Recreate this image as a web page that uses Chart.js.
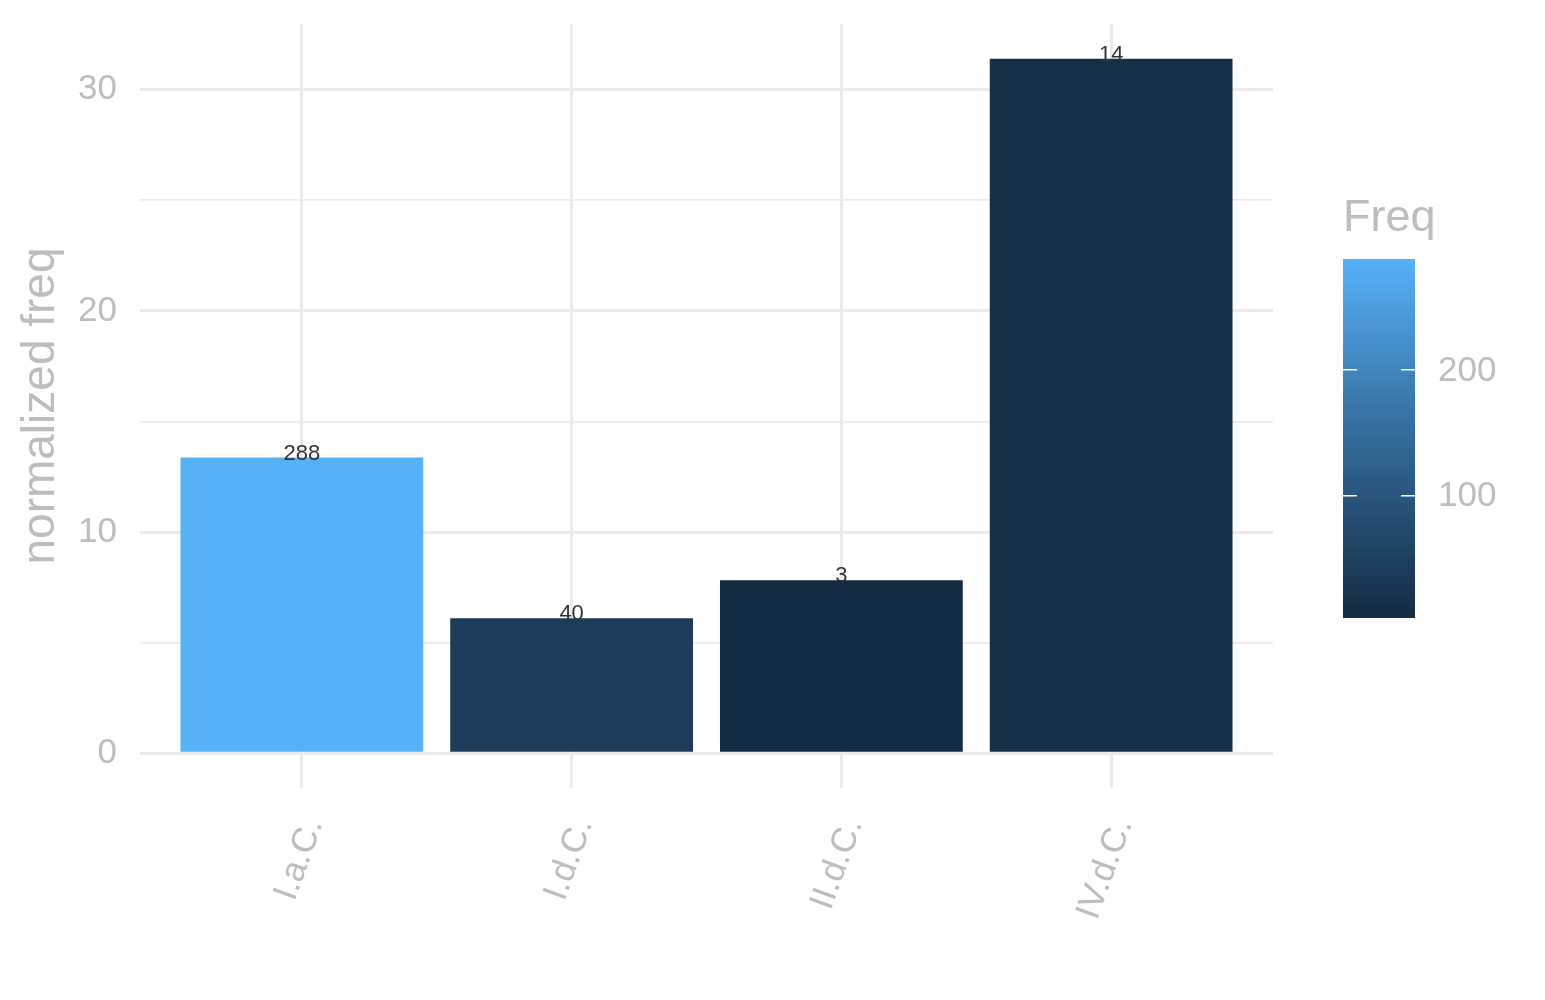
<!DOCTYPE html>
<html>
<head>
<meta charset="utf-8">
<script src="https://cdn.jsdelivr.net/npm/chart.js@4.4.1/dist/chart.umd.min.js"></script>
<style>
  html, body { margin: 0; padding: 0; background: #fff; }
  #wrap { width: 1545px; height: 1000px; position: relative; }
</style>
</head>
<body>
<div id="wrap"><canvas id="chart"></canvas></div>
<script>
// values
const categories = ["I.a.C.", "I.d.C.", "II.d.C.", "IV.d.C."];
const normalizedFreq = [13.37, 6.1, 7.82, 31.4];
const freq = [288, 40, 3, 14];
const yTicks = [0, 5, 10, 15, 20, 25, 30];
const legendTicks = [100, 200];

const LOW = [0x13, 0x2b, 0x43];
const HIGH = [0x56, 0xb1, 0xf7];
const GREY = "#bdbdbd";
const GRID = "#ebebeb";
const FONT = "'Liberation Sans', Arial, sans-serif";

const freqMin = Math.min(...freq);
const freqMax = Math.max(...freq);

const fillFor = (v) => {
  const t = (v - freqMin) / (freqMax - freqMin);
  const c = LOW.map((lo, i) => Math.round(lo + (HIGH[i] - lo) * t));
  return `rgb(${c[0]}, ${c[1]}, ${c[2]})`;
};

// bar value labels (the Freq counts)
const barLabels = {
  id: "barLabels",
  afterDatasetsDraw(chart) {
    const { ctx } = chart;
    const meta = chart.getDatasetMeta(0);
    ctx.save();
    ctx.font = `22px ${FONT}`;
    ctx.fillStyle = "#333333";
    ctx.textAlign = "center";
    ctx.textBaseline = "alphabetic";
    meta.data.forEach((bar, i) => {
      ctx.fillText(String(freq[i]), bar.x, bar.y + 2);
    });
    ctx.restore();
  }
};

// colour bar legend on the right
const colorBar = {
  id: "colorBar",
  afterDraw(chart) {
    const { ctx } = chart;
    const left = 1343, top = 259, w = 72, h = 359;
    const bottom = top + h;
    const toY = (v) => bottom - (v - freqMin) / (freqMax - freqMin) * h;

    ctx.save();
    ctx.font = `45px ${FONT}`;
    ctx.fillStyle = GREY;
    ctx.textAlign = "left";
    ctx.textBaseline = "alphabetic";
    ctx.fillText("Freq", left, 231);

    const grad = ctx.createLinearGradient(0, bottom, 0, top);
    grad.addColorStop(0, fillFor(freqMin));
    grad.addColorStop(0.5, "#336a98");
    grad.addColorStop(1, fillFor(freqMax));
    ctx.fillStyle = grad;
    ctx.fillRect(left, top, w, h);

    ctx.strokeStyle = "#ffffff";
    ctx.lineWidth = 1.5;
    ctx.font = `35px ${FONT}`;
    ctx.fillStyle = GREY;
    ctx.textBaseline = "middle";
    legendTicks.forEach((v) => {
      const y = toY(v);
      ctx.beginPath();
      ctx.moveTo(left, y);
      ctx.lineTo(left + 14, y);
      ctx.moveTo(left + w - 14, y);
      ctx.lineTo(left + w, y);
      ctx.stroke();
      ctx.fillText(String(v), left + w + 23, y + 1);
    });
    ctx.restore();
  }
};

new Chart(document.getElementById("chart"), {
  type: "bar",
  data: {
    datasets: [{
      data: normalizedFreq.map((v, i) => ({ x: i + 1, y: v })),
      backgroundColor: freq.map(fillFor),
      borderWidth: 0,
      categoryPercentage: 1,
      barPercentage: 0.9
    }]
  },
  options: {
    responsive: true,
    maintainAspectRatio: false,
    animation: false,
    layout: { padding: { top: 24, right: 272, left: 0, bottom: 0 } },
    plugins: {
      legend: { display: false },
      tooltip: { enabled: false }
    },
    scales: {
      x: {
        type: "linear",
        min: 0.4,
        max: 4.6,
        offset: false,
        afterBuildTicks: (scale) => {
          scale.ticks = categories.map((_, i) => ({ value: i + 1 }));
        },
        afterFit: (scale) => {
          scale.height = 212;
          scale.paddingLeft = 0;
          scale.paddingRight = 0;
        },
        grid: { color: GRID, lineWidth: 3, drawTicks: false, offset: false },
        border: { display: false },
        ticks: {
          minRotation: 70,
          maxRotation: 70,
          padding: 25,
          labelOffset: 12,
          autoSkip: false,
          color: GREY,
          font: { family: FONT, size: 35 },
          callback: (v) => categories[v - 1] ?? ""
        }
      },
      y: {
        min: -1.57,
        max: 32.97,
        afterBuildTicks: (scale) => {
          scale.ticks = yTicks.map((v) => ({ value: v }));
        },
        afterFit: (scale) => {
          scale.width = 140;
          scale.paddingTop = 0;
          scale.paddingBottom = 0;
        },
        grid: {
          color: GRID,
          lineWidth: (c) => (c.tick && c.tick.value % 10 === 0 ? 3 : 1.8),
          drawTicks: false
        },
        border: { display: false },
        ticks: {
          padding: 23,
          color: GREY,
          font: { family: FONT, size: 35 },
          callback: (v) => (v % 10 === 0 ? String(v) : "")
        },
        title: {
          display: true,
          text: "normalized freq",
          color: GREY,
          font: { family: FONT, size: 46 },
          padding: { top: 14, bottom: 0 }
        }
      }
    }
  },
  plugins: [barLabels, colorBar]
});
</script>
</body>
</html>
